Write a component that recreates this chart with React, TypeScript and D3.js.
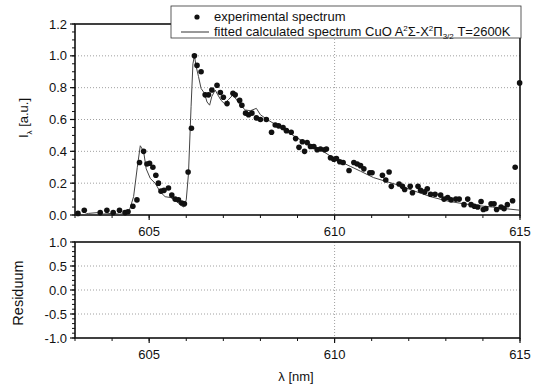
import React from "react"
import * as d3 from "d3"

// experimental spectrum (dots)
const expX = [603.08, 603.25, 603.68, 603.86, 604.03, 604.2, 604.35, 604.43, 604.56, 604.67, 604.74, 604.85, 604.94, 605.01, 605.1, 605.18, 605.25, 605.32, 605.4, 605.52, 605.61, 605.7, 605.79, 605.88, 605.95, 606.05, 606.14, 606.22, 606.29, 606.4, 606.51, 606.6, 606.69, 606.83, 606.92, 607.0, 607.1, 607.26, 607.32, 607.44, 607.5, 607.6, 607.68, 607.77, 607.89, 608.0, 608.16, 608.3, 608.4, 608.49, 608.61, 608.7, 608.83, 608.95, 609.04, 609.13, 609.19, 609.26, 609.35, 609.44, 609.53, 609.62, 609.73, 609.78, 609.89, 609.98, 610.05, 610.14, 610.23, 610.39, 610.52, 610.61, 610.7, 610.79, 610.95, 611.01, 611.29, 611.38, 611.47, 611.53, 611.74, 611.83, 611.89, 612.04, 612.1, 612.25, 612.32, 612.43, 612.5, 612.59, 612.71, 612.86, 612.95, 613.05, 613.14, 613.27, 613.36, 613.49, 613.59, 613.68, 613.77, 613.86, 613.95, 614.01, 614.08, 614.22, 614.3, 614.37, 614.49, 614.57, 614.66, 614.8, 614.87, 614.99]
const expY = [0.01, 0.03, 0.015, 0.03, 0.015, 0.03, 0.015, 0.02, 0.055, 0.095, 0.33, 0.4, 0.32, 0.325, 0.3, 0.25, 0.2, 0.15, 0.155, 0.17, 0.125, 0.1, 0.095, 0.075, 0.07, 0.27, 0.545, 1.0, 0.94, 0.9, 0.755, 0.755, 0.785, 0.815, 0.77, 0.74, 0.7, 0.765, 0.755, 0.72, 0.69, 0.64, 0.63, 0.64, 0.61, 0.6, 0.6, 0.52, 0.565, 0.56, 0.55, 0.53, 0.52, 0.48, 0.425, 0.46, 0.4, 0.455, 0.43, 0.43, 0.41, 0.415, 0.41, 0.415, 0.36, 0.35, 0.355, 0.335, 0.33, 0.28, 0.33, 0.32, 0.31, 0.29, 0.265, 0.265, 0.25, 0.22, 0.27, 0.18, 0.195, 0.18, 0.16, 0.18, 0.14, 0.18, 0.155, 0.145, 0.165, 0.13, 0.13, 0.125, 0.1, 0.11, 0.095, 0.1, 0.1, 0.065, 0.1, 0.065, 0.055, 0.05, 0.085, 0.035, 0.04, 0.07, 0.07, 0.035, 0.05, 0.04, 0.065, 0.09, 0.3, 0.83]

// fitted calculated spectrum (line)
const fitX = [603.0, 603.2, 603.36, 603.6, 603.72, 604.0, 604.2, 604.44, 604.58, 604.68, 604.76, 604.85, 604.92, 605.03, 605.16, 605.3, 605.43, 605.57, 605.7, 605.84, 605.93, 606.0, 606.06, 606.13, 606.18, 606.22, 606.27, 606.33, 606.4, 606.49, 606.56, 606.63, 606.69, 606.78, 606.85, 606.94, 607.03, 607.14, 607.26, 607.37, 607.46, 607.59, 607.73, 607.89, 608.0, 608.18, 608.36, 608.54, 608.72, 608.95, 609.17, 609.4, 609.62, 609.89, 610.16, 610.43, 610.7, 611.05, 611.4, 611.69, 612.1, 612.59, 613.0, 613.36, 613.8, 614.26, 614.6, 615.0]
const fitY = [0.015, 0.0, 0.01, 0.015, 0.005, 0.01, 0.005, 0.01, 0.115, 0.3, 0.435, 0.4, 0.29, 0.23, 0.2, 0.145, 0.115, 0.11, 0.095, 0.063, 0.05, 0.095, 0.26, 0.68, 0.95, 1.0, 0.93, 0.87, 0.795, 0.765, 0.71, 0.69, 0.745, 0.785, 0.755, 0.72, 0.7, 0.725, 0.755, 0.72, 0.69, 0.66, 0.655, 0.67, 0.63, 0.6, 0.575, 0.545, 0.525, 0.49, 0.46, 0.44, 0.41, 0.37, 0.335, 0.305, 0.275, 0.235, 0.21, 0.19, 0.155, 0.115, 0.09, 0.075, 0.06, 0.05, 0.04, 0.03]

const xTicks = [605, 610, 615]
const topYTicks = [0.0, 0.2, 0.4, 0.6, 0.8, 1.0, 1.2]
const resYTicks = [-1.0, -0.5, 0.0, 0.5, 1.0]

const W = 537
const H = 387
const L = 75
const R = 520
const font = "'Liberation Sans', Arial, sans-serif"

const x = d3.scaleLinear().domain([603, 615]).range([L, R])
const yTop = d3.scaleLinear().domain([0, 1.2]).range([215, 24])
const yRes = d3.scaleLinear().domain([-1, 1]).range([338, 242])

function Panel({ y, ticks, minor, labelY }: any) {
  const [y0, y1] = y.range()
  const xMinor = d3.range(603, 615.01, 1)
  return (
    <g>
      {ticks.slice(1, -1).map((t: number) => (
        <line key={"g" + t} x1={L} x2={R} y1={y(t)} y2={y(t)} stroke="#888" strokeWidth={0.8} strokeDasharray="1,2" />
      ))}
      <line x1={x(610)} x2={x(610)} y1={y1} y2={y0} stroke="#888" strokeWidth={0.8} strokeDasharray="1,2" />
      <rect x={L} y={y1} width={R - L} height={y0 - y1} fill="none" stroke="#111" strokeWidth={1.6} />
      {minor.map((t: number) => (
        <line key={"m" + t} x1={L - 3} x2={L} y1={y(t)} y2={y(t)} stroke="#111" />
      ))}
      {ticks.map((t: number) => (
        <g key={"t" + t}>
          <line x1={L - 5} x2={L} y1={y(t)} y2={y(t)} stroke="#111" strokeWidth={1.2} />
          <text x={L - 8} y={y(t) + 4.5} textAnchor="end" fontSize={13} fontFamily={font} fill="#111">
            {t.toFixed(1)}
          </text>
        </g>
      ))}
      {xMinor.map((t: number) => (
        <line key={"xm" + t} x1={x(t)} x2={x(t)} y1={y0} y2={y0 + 3} stroke="#111" />
      ))}
      {xTicks.map((t) => (
        <g key={"x" + t}>
          <line x1={x(t)} x2={x(t)} y1={y0} y2={y0 + 5} stroke="#111" strokeWidth={1.2} />
          <text x={x(t)} y={labelY} textAnchor="middle" fontSize={13} fontFamily={font} fill="#111">
            {t}
          </text>
        </g>
      ))}
    </g>
  )
}

export default function App() {
  const line = d3
    .line<number>()
    .x((d, i) => x(fitX[i]))
    .y((d) => yTop(d))
  return (
    <svg width={W} height={H} style={{ position: "absolute", left: 0, top: 0, background: "#fff" }}>
      <Panel y={yTop} ticks={topYTicks} minor={d3.range(0, 1.2001, 0.05)} labelY={236} />
      <Panel y={yRes} ticks={resYTicks} minor={d3.range(-1, 1.0001, 0.1)} labelY={359} />

      <path d={line(fitY) || ""} fill="none" stroke="#444" strokeWidth={1} />
      {expX.map((v, i) => (
        <circle key={i} cx={x(v)} cy={yTop(expY[i])} r={2.8} fill="#111" />
      ))}

      <g fontFamily={font} fill="#111">
        <rect x={171} y={6} width={350} height={32} fill="#fff" stroke="#333" strokeWidth={0.8} />
        <circle cx={197} cy={17} r={2.6} fill="#111" />
        <text x={214} y={21} fontSize={13}>experimental spectrum</text>
        <line x1={181} x2={209} y1={32} y2={32} stroke="#333" strokeWidth={1} />
        <text x={214} y={36} fontSize={13}>
          fitted calculated spectrum CuO A<tspan dy={-5} fontSize={8}>2</tspan>
          <tspan dy={5}>Σ-X</tspan>
          <tspan dy={-5} fontSize={8}>2</tspan>
          <tspan dy={5}>Π</tspan>
          <tspan dy={3} fontSize={8}>3/2</tspan>
          <tspan dy={-3}> T=2600K</tspan>
        </text>
      </g>

      <text transform="translate(28,118) rotate(-90)" textAnchor="middle" fontSize={13} fontFamily={font} fill="#111">
        I<tspan dy={4} fontSize={8}>λ</tspan>
        <tspan dy={-4}> [a.u.]</tspan>
      </text>
      <text transform="translate(23,293) rotate(-90)" textAnchor="middle" fontSize={14.5} fontFamily={font} fill="#111">
        Residuum
      </text>
      <text x={296} y={381} textAnchor="middle" fontSize={13} fontFamily={font} fill="#111">
        λ [nm]
      </text>
    </svg>
  )
}
